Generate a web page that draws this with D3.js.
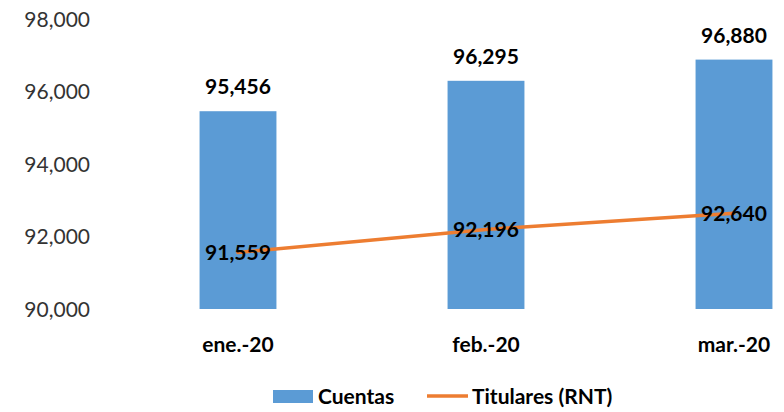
<!DOCTYPE html>
<html lang="es">
<head>
    <meta charset="UTF-8">
    <title>Cuentas y Titulares (RNT)</title>
    <script src="https://d3js.org/d3.v7.min.js"></script>
    <style>
        body {
            margin: 0;
            background-color: #ffffff;
            font-family: Lato, "Noto Sans", sans-serif;
        }
        .tick text {
            font-size: 21px;
            fill: #333;
        }
        .value-label {
            font-size: 21px;
            font-weight: bold;
            fill: #000;
        }
        .cat-label {
            font-size: 21px;
            font-weight: bold;
            fill: #000;
        }
        .legend text {
            font-size: 21px;
            font-weight: bold;
            fill: #000;
        }
    </style>
</head>
<body>
    <div id="chart"></div>
    <script>
        // Data
        const months = ["ene.-20", "feb.-20", "mar.-20"];
        const cuentas = [95456, 96295, 96880];
        const titulares = [91559, 92196, 92640];
        const yTicks = [90000, 92000, 94000, 96000, 98000];

        const W = 784, H = 412;

        const svg = d3.select("#chart")
            .append("svg")
            .attr("width", W)
            .attr("height", H);

        // Scales (plot runs past the right edge, as in the cropped original)
        const x = d3.scaleBand()
            .domain(months)
            .range([114, 858])
            .paddingInner(0.69)
            .paddingOuter(0.345);

        const y = d3.scaleLinear()
            .domain([90000, 98000])
            .range([309, 19]);

        const fmt = d3.format(",");

        // Y axis (labels only)
        const yAxis = svg.append("g")
            .attr("transform", "translate(90,0)")
            .call(d3.axisLeft(y).tickValues(yTicks).tickFormat(fmt).tickSize(0).tickPadding(0));
        yAxis.select(".domain").remove();
        yAxis.selectAll("text").attr("dy", "0.35em").style("font-family", "Lato, 'Noto Sans', sans-serif");

        // Bars
        svg.selectAll(".bar")
            .data(cuentas)
            .enter()
            .append("rect")
            .attr("class", "bar")
            .attr("x", (d, i) => x(months[i]))
            .attr("y", d => y(d))
            .attr("width", x.bandwidth())
            .attr("height", d => y(90000) - y(d))
            .attr("fill", "#5b9bd5");

        // Bar value labels
        svg.selectAll(".bar-label")
            .data(cuentas)
            .enter()
            .append("text")
            .attr("class", "value-label")
            .attr("x", (d, i) => x(months[i]) + x.bandwidth() / 2)
            .attr("y", d => y(d) - 17)
            .attr("text-anchor", "middle")
            .text(d => fmt(d));

        // Line
        const line = d3.line()
            .x((d, i) => x(months[i]) + x.bandwidth() / 2)
            .y(d => y(d));

        svg.append("path")
            .datum(titulares)
            .attr("d", line)
            .attr("fill", "none")
            .attr("stroke", "#ed7d31")
            .attr("stroke-width", 3.5)
            .attr("stroke-linecap", "round");

        // Line value labels
        svg.selectAll(".line-label")
            .data(titulares)
            .enter()
            .append("text")
            .attr("class", "value-label")
            .attr("x", (d, i) => x(months[i]) + x.bandwidth() / 2)
            .attr("y", d => y(d))
            .attr("dy", "0.38em")
            .attr("text-anchor", "middle")
            .text(d => fmt(d));

        // Category labels
        svg.selectAll(".cat-label")
            .data(months)
            .enter()
            .append("text")
            .attr("class", "cat-label")
            .attr("x", d => x(d) + x.bandwidth() / 2)
            .attr("y", 352)
            .attr("text-anchor", "middle")
            .text(d => d);

        // Legend
        const legend = svg.append("g").attr("class", "legend");
        legend.append("rect")
            .attr("x", 273).attr("y", 390)
            .attr("width", 40).attr("height", 13)
            .attr("fill", "#5b9bd5");
        legend.append("text")
            .attr("x", 318).attr("y", 404)
            .text("Cuentas");
        legend.append("line")
            .attr("x1", 427).attr("x2", 468)
            .attr("y1", 396).attr("y2", 396)
            .attr("stroke", "#ed7d31")
            .attr("stroke-width", 3.5);
        legend.append("text")
            .attr("x", 472).attr("y", 404)
            .text("Titulares (RNT)");
    </script>
</body>
</html>
